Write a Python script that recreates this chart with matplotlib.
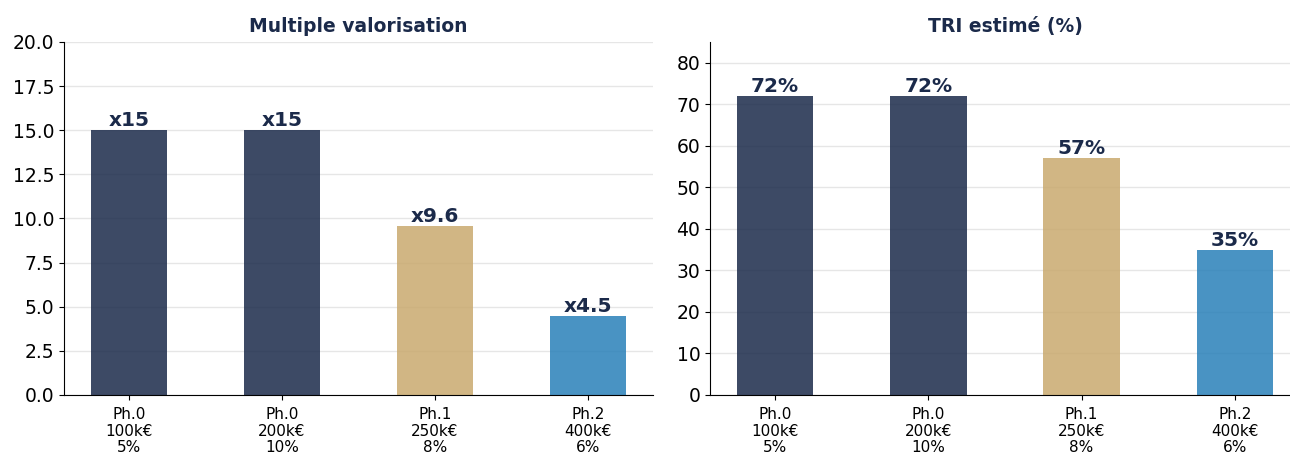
import matplotlib
matplotlib.use("Agg")
import matplotlib.pyplot as plt

categories = ["Ph.0\n100k€\n5%", "Ph.0\n200k€\n10%", "Ph.1\n250k€\n8%", "Ph.2\n400k€\n6%"]
multiples = [15, 15, 9.6, 4.5]
multiple_labels = ["x15", "x15", "x9.6", "x4.5"]
irr = [72, 72, 57, 35]
irr_labels = ["72%", "72%", "57%", "35%"]
colors = ["#1B2A4A", "#1B2A4A", "#C9A96E", "#2980B9"]

navy = "#1B2A4A"

fig = plt.figure(figsize=(12.9, 4.54), dpi=100)
ax1 = fig.add_axes([64 / 1290, 59 / 454, 589 / 1290, 353 / 454])
ax2 = fig.add_axes([710 / 1290, 59 / 454, 590 / 1290, 353 / 454])


def draw(ax, values, labels, title, ylim, yticks):
    x = range(len(values))
    ax.bar(x, values, width=0.5, color=colors, alpha=0.85, zorder=2)
    ax.set_ylim(*ylim)
    ax.set_yticks(yticks)
    ax.set_xticks(list(x))
    ax.set_xticklabels(categories, fontsize=11, linespacing=1.15)
    ax.tick_params(axis="x", pad=5)
    ax.tick_params(axis="y", labelsize=13.5)
    ax.set_title(title, fontsize=13.5, fontweight="bold", color=navy, pad=7)
    ax.grid(axis="y", color="#e6e6e6", linewidth=1, zorder=0)
    ax.set_axisbelow(True)
    for s in ("top", "right"):
        ax.spines[s].set_visible(False)
    for xi, v, lab in zip(x, values, labels):
        ax.text(xi, v, lab, ha="center", va="bottom", fontsize=14.5,
                fontweight="bold", color=navy)


draw(ax1, multiples, multiple_labels, "Multiple valorisation", (0, 20),
     [0, 2.5, 5, 7.5, 10, 12.5, 15, 17.5, 20])
ax1.set_yticklabels(["0.0", "2.5", "5.0", "7.5", "10.0", "12.5", "15.0", "17.5", "20.0"])
draw(ax2, irr, irr_labels, "TRI estimé (%)", (0, 85), list(range(0, 81, 10)))

fig.savefig("out.png", dpi=100)
